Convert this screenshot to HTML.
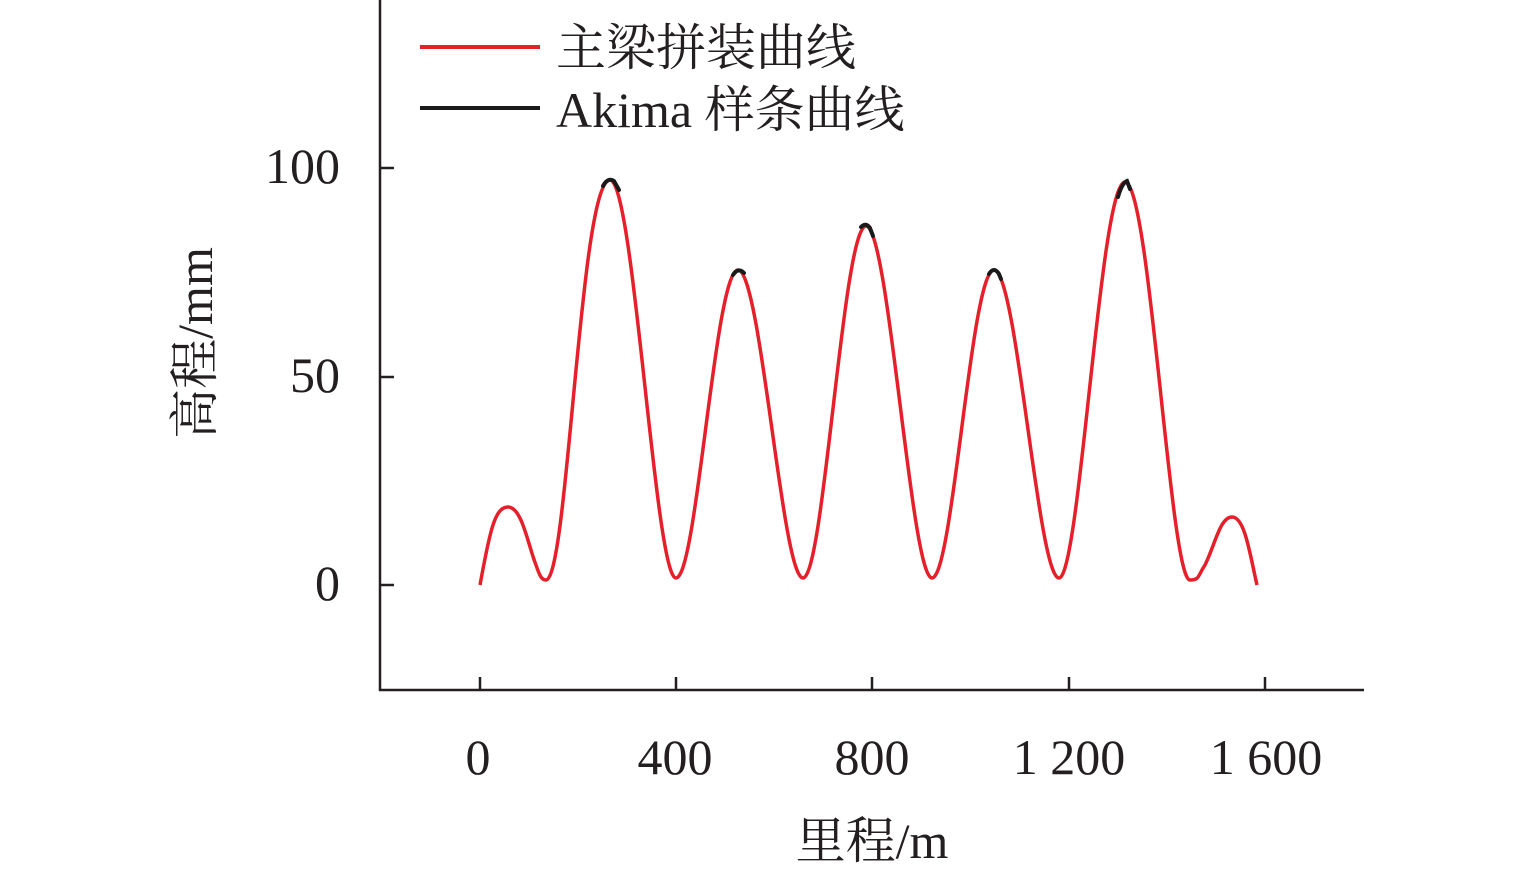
<!DOCTYPE html>
<html><head><meta charset="utf-8"><style>
html,body{margin:0;padding:0;background:#fff;}
svg text{font-family:"Liberation Serif","Noto Serif CJK SC","Noto Sans CJK SC",serif;fill:#231f20;}
</style></head><body>
<svg width="1535" height="874" viewBox="0 0 1535 874" xmlns="http://www.w3.org/2000/svg">
<g stroke="#231f20" stroke-width="2.5" fill="none">
<line x1="380" y1="0" x2="380" y2="691"/>
<line x1="379" y1="690" x2="1364" y2="690"/>
<line x1="380" y1="168" x2="394" y2="168"/>
<line x1="380" y1="377" x2="394" y2="377"/>
<line x1="380" y1="585" x2="394" y2="585"/>
<line x1="480" y1="690" x2="480" y2="677"/>
<line x1="676" y1="690" x2="676" y2="677"/>
<line x1="872" y1="690" x2="872" y2="677"/>
<line x1="1069" y1="690" x2="1069" y2="677"/>
<line x1="1265" y1="690" x2="1265" y2="677"/>
</g>
<g font-size="50" text-anchor="end">
<text x="340" y="183">100</text>
<text x="340" y="392">50</text>
<text x="340" y="600">0</text>
</g>
<g font-size="50" text-anchor="middle">
<text x="478" y="774">0</text>
<text x="675" y="774">400</text>
<text x="872" y="774">800</text>
<text x="1069" y="774">1 200</text>
<text x="1266" y="774">1 600</text>
</g>
<text x="872" y="858" font-size="50" text-anchor="middle">里程/m</text>
<text font-size="50" text-anchor="middle" transform="translate(212,343) rotate(-90)">高程/mm</text>
<path fill="none" stroke="#e5202a" stroke-width="3.5" stroke-linejoin="round" d="
M480,585 C490,530 495,507 508,507 C522,507 528,545 536,565 C540,577 542,580 546,580
C568,580 580,180 610,180 C634,180 655,578 676,578
C697,578 715,270 738,270 C761,270 782,578 803,578
C824,578 843,226 866,226 C889,226 911,578 932,578
C953,578 971,270 994,270 C1017,270 1038,578 1059,578
C1080,578 1100,182 1125,182 C1150,182 1170,580 1190,580
C1200,580 1198,575 1205,565 C1215,545 1220,517 1232,517 C1245,517 1250,555 1257,585"/>
<g fill="none" stroke="#1a1a1a" stroke-width="4" stroke-linecap="round">
<path d="M603,186 Q608,177 614,181 L619,190"/>
<path d="M733,275 Q738,267 744,273"/>
<path d="M861,227 Q866,222 870,228 L873,236"/>
<path d="M989,274 Q994,266 999,274 L1001,279"/>
<path d="M1118,197 Q1122,183 1127,181 L1130,189"/>
</g>
<line x1="420" y1="47" x2="540" y2="47" stroke="#e5202a" stroke-width="4"/>
<line x1="420" y1="108" x2="540" y2="108" stroke="#1a1a1a" stroke-width="4"/>
<text x="556" y="65" font-size="50">主梁拼装曲线</text>
<text x="556" y="127" font-size="50">Akima 样条曲线</text>
</svg>
</body></html>
